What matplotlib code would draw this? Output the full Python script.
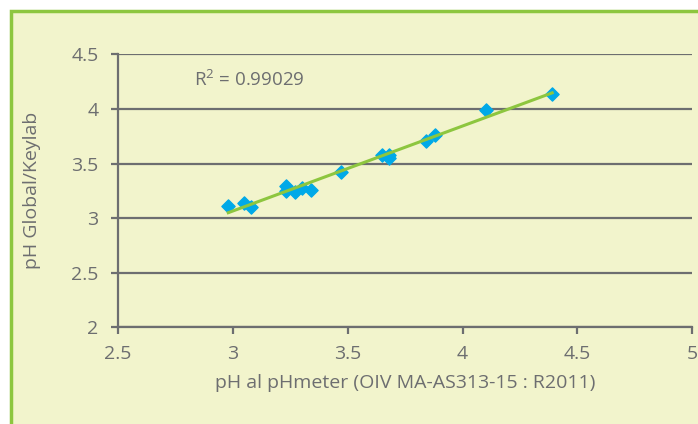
import matplotlib.pyplot as plt
from matplotlib.patches import Rectangle
import numpy as np

ph_meter = [2.98, 3.05, 3.08, 3.23, 3.23, 3.27, 3.30, 3.34, 3.47,
            3.65, 3.68, 3.68, 3.84, 3.88, 4.10, 4.39]
ph_keylab = [3.11, 3.14, 3.10, 3.29, 3.25, 3.24, 3.28, 3.26, 3.42,
             3.58, 3.58, 3.55, 3.71, 3.76, 3.99, 4.14]
r2_text = "R$^2$ = 0.99029"

plt.rcParams['font.family'] = ['Open Sans', 'DejaVu Sans']
plt.rcParams['mathtext.fontset'] = 'custom'
plt.rcParams['mathtext.rm'] = 'Open Sans'
grey = '#6d6e70'
bg = '#f2f4cc'

fig = plt.figure(figsize=(6.98, 4.24), dpi=100)
W, H = 698, 424
# green frame, cut off at the right and bottom
frame = Rectangle((11 / W, -0.05), 1.1, 1 - 11 / H + 0.05, transform=fig.transFigure,
                  facecolor=bg, edgecolor='#8dc63f', linewidth=2.5, zorder=-5)
fig.add_artist(frame)

ax = fig.add_axes([118 / W, 1 - 327.3 / H, (692.3 - 118) / W, (327.3 - 54.3) / H])
ax.set_zorder(2)
ax.set_facecolor('none')
ax.set_xlim(2.5, 5)
ax.set_ylim(2, 4.5)
ax.set_xticks(np.arange(2.5, 5.01, 0.5))
ax.set_yticks(np.arange(2, 4.51, 0.5))
ax.set_xticklabels(['2.5', '3', '3.5', '4', '4.5', '5'])
ax.set_yticklabels(['2', '2.5', '3', '3.5', '4', '4.5'])
ax.grid(axis='y', color=grey, linewidth=1.6)
ax.set_axisbelow(True)
for s in ['top', 'right']:
    ax.spines[s].set_visible(False)
for s in ['left', 'bottom']:
    ax.spines[s].set_color(grey)
    ax.spines[s].set_linewidth(1.6)
ax.tick_params(colors=grey, labelsize=14, width=1.6, length=5, direction='out')
ax.tick_params(axis='x', pad=8)
ax.tick_params(axis='y', pad=9)

# trendline
coef = np.polyfit(ph_meter, ph_keylab, 1)
xs = np.array([min(ph_meter), max(ph_meter)])
ax.plot(xs, np.polyval(coef, xs), color='#8dc63f', linewidth=2.2, zorder=3)
ax.scatter(ph_meter, ph_keylab, marker='D', s=45, color='#00a9e8', zorder=2, clip_on=False)

ax.text(2.83, 4.265, r2_text, color=grey, fontsize=13.5, va='center')
ax.set_xlabel('pH al pHmeter (OIV MA-AS313-15 : R2011)', color=grey, fontsize=14, labelpad=8)
ax.set_ylabel('pH Global/Keylab', color=grey, fontsize=14, labelpad=22)

fig.savefig('out.png', dpi=100)
